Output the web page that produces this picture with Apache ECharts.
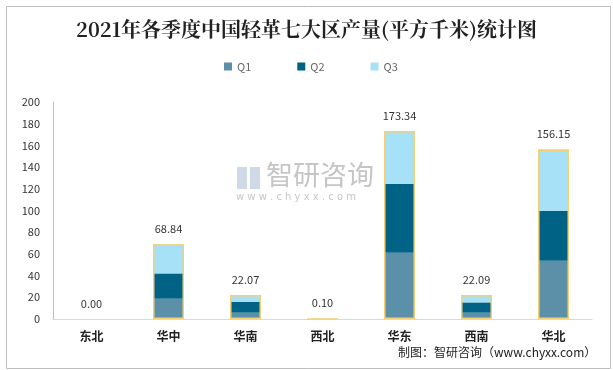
<!DOCTYPE html>
<html><head><meta charset="utf-8">
<script src="https://cdn.jsdelivr.net/npm/echarts@6/dist/echarts.min.js"></script>
<style>html,body{margin:0;padding:0;background:#fff}#c{width:613px;height:370px}</style>
</head><body><div id="c"></div>
<script>
const categories = ['东北','华中','华南','西北','华东','西南','华北'];
const q1 = [0, 18.7, 5.8, 0.03, 61.1, 5.8, 53.7];
const q2 = [0, 23.3, 10.1, 0.03, 63.6, 9.5, 46.1];
const q3 = [0, 26.84, 6.17, 0.04, 48.64, 6.79, 56.35];
const totals = [0.00, 68.84, 22.07, 0.10, 173.34, 22.09, 156.15];
const yTicks = [0, 200, 20];

const chart = echarts.init(document.getElementById('c'));
const font = '"Noto Sans CJK SC", sans-serif';
chart.setOption({
  animation: false,
  backgroundColor: '#fff',
  title: {
    text: '2021年各季度中国轻革七大区产量(平方千米)统计图',
    left: 'center', top: 14,
    textStyle: { fontFamily: '"Noto Serif CJK SC","DejaVu Serif",serif', fontSize: 20, fontWeight: 'bold', color: '#222' }
  },
  legend: {
    top: 56, left: 219, itemWidth: 8, itemHeight: 8, itemGap: 46,
    icon: 'rect',
    textStyle: { color: '#666', fontSize: 11, fontFamily: font },
    data: ['Q1','Q2','Q3']
  },
  grid: { left: 53, right: 21, top: 102, bottom: 51 },
  xAxis: {
    type: 'category', data: categories,
    axisLine: { lineStyle: { color: '#d9d9d9' } },
    axisTick: { show: false },
    axisLabel: { color: '#222', fontSize: 12, fontWeight: 'bold', fontFamily: font, margin: 11 }
  },
  yAxis: {
    type: 'value', min: yTicks[0], max: yTicks[1], interval: yTicks[2],
    axisLine: { show: true, lineStyle: { color: '#bfbfbf' } },
    axisTick: { show: false },
    splitLine: { show: false },
    axisLabel: { color: '#333', fontSize: 11, fontFamily: font, margin: 13 }
  },
  graphic: [
    { type: 'rect', left: 4, top: 4, shape: { width: 604, height: 362 }, style: { fill: 'none', stroke: '#bfbfbf', lineWidth: 1 }, silent: true },
    { type: 'text', left: 398, top: 346, style: { text: '制图：智研咨询（www.chyxx.com）', fill: '#222', font: '12px "Noto Sans CJK SC", sans-serif' }, z: 10 },
    { type: 'text', left: 266, top: 161, style: { text: '智研咨询', fill: 'rgba(150,150,150,0.55)', font: '27px "Noto Sans CJK SC", sans-serif' }, z: 10 },
    { type: 'text', left: 236, top: 192, style: { text: 'w w w . c h y x x . c o m', fill: 'rgba(150,150,150,0.55)', font: '10px "DejaVu Sans", sans-serif' }, z: 10 },
    { type: 'rect', left: 237, top: 167, shape: { width: 10, height: 22 }, style: { fill: 'rgba(160,180,210,0.5)' }, z: 10 },
    { type: 'rect', left: 250, top: 167, shape: { width: 10, height: 22 }, style: { fill: 'rgba(160,180,210,0.5)' }, z: 10 }
  ],
  series: [
    { name: 'Q1', type: 'bar', stack: 's', barWidth: 31, data: q1, itemStyle: { color: '#5B90A8' } },
    { name: 'Q2', type: 'bar', stack: 's', data: q2, itemStyle: { color: '#006285' } },
    { name: 'Q3', type: 'bar', stack: 's', data: q3, itemStyle: { color: '#A6E1F8' } },
    { name: 'total', type: 'bar', barWidth: 31, barGap: '-100%', z: 5,
      data: totals.map(v => v === 0 ? { value: v, itemStyle: { borderWidth: 0 } } : v),
      itemStyle: { color: 'rgba(0,0,0,0)', borderColor: '#F6CF72', borderWidth: 1.5 },
      label: { show: true, position: 'top', distance: 10, color: '#333', fontSize: 11, fontFamily: font,
               formatter: p => Number(p.value).toFixed(2) } }
  ]
});
</script></body></html>
